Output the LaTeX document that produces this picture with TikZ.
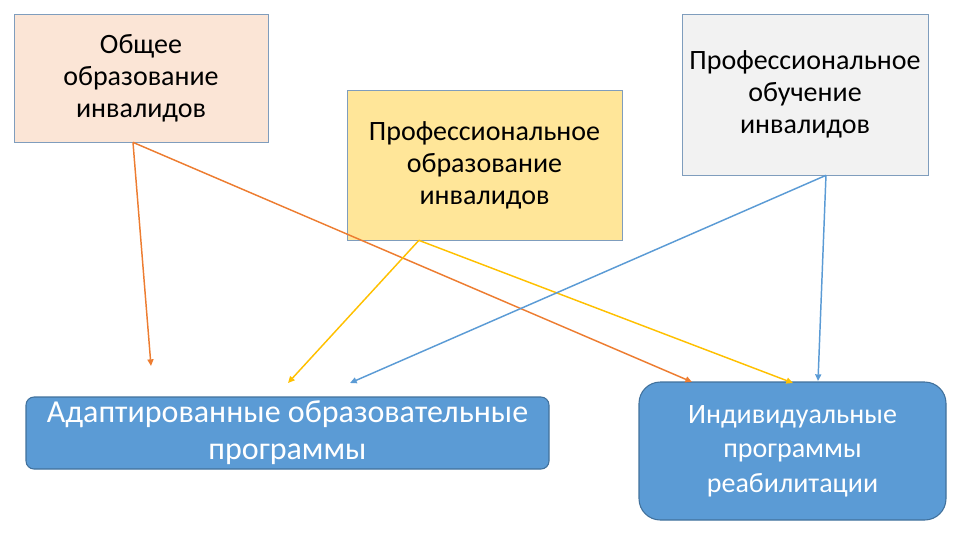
\documentclass[tikz,border=0pt]{standalone}
\usepackage{fontspec}
\setmainfont{Carlito}
\usetikzlibrary{arrows.meta,calc}
\definecolor{peach}{HTML}{FBE5D6}
\definecolor{lightyellow}{HTML}{FFE699}
\definecolor{lightgray}{HTML}{F2F2F2}
\definecolor{accblue}{HTML}{5B9BD5}
\definecolor{darkblue}{HTML}{41719C}
\definecolor{edgegray}{HTML}{7F9DBD}
\definecolor{accorange}{HTML}{ED7D31}
\definecolor{accyellow}{HTML}{FFC000}
\definecolor{linkblue}{HTML}{5B9BD5}
\begin{document}
\begin{tikzpicture}[x=0.75pt,y=-0.75pt,
  topbox/.style={draw=edgegray, line width=0.5pt, inner sep=0pt, align=center,
    font=\fontsize{21}{24}\selectfont, text=black},
  bluebox/.style={draw=darkblue, fill=accblue, line width=0.8pt, inner sep=0pt,
    align=center, text=white},
  link/.style={line width=1.1pt, -{Triangle[length=5pt,width=4.5pt]}}
]
\useasboundingbox (0,0) rectangle (960,540);
\node[topbox, fill=peach, minimum width=190.5pt, minimum height=96pt] (b1) at (141,78)
  {Общее\\образование\\инвалидов};
\node[topbox, fill=lightyellow, minimum width=206.25pt, minimum height=112.5pt] (b2) at (484.5,165)
  {Профессиональное\\образование\\инвалидов};
\node[topbox, fill=lightgray, minimum width=184.5pt, minimum height=120.75pt] (b3) at (805,94.5)
  {Профессиональное\\обучение\\инвалидов};
\node[bluebox, rounded corners=6pt, minimum width=392.25pt, minimum height=54pt,
  font=\fontsize{24}{27.75}\selectfont] (b4) at (287.5,433)
  {Адаптированные образовательные\\программы};
\node[bluebox, rounded corners=16pt, minimum width=230.25pt, minimum height=103.5pt,
  font=\fontsize{21}{26}\selectfont] (b5) at (792.5,451)
  {Индивидуальные\\программы\\реабилитации};

\coordinate (s1) at ($(b1.south west)!0.4685!(b1.south east)$);
\coordinate (s2) at ($(b2.south west)!0.262!(b2.south east)$);
\coordinate (s3) at ($(b3.south west)!0.585!(b3.south east)$);
\coordinate (e1) at (151,366);
\coordinate (e2) at (692,382);
\coordinate (e3) at (288,383);
\coordinate (e4) at (793,383);
\coordinate (e5) at (350,383);
\coordinate (e6) at (818,381);

\draw[link, accorange] (s1) -- (e1);
\draw[link, accorange] (s1) -- (e2);
\draw[link, accyellow] (s2) -- (e3);
\draw[link, accyellow] (s2) -- (e4);
\draw[link, linkblue] (s3) -- (e5);
\draw[link, linkblue] (s3) -- (e6);
\end{tikzpicture}
\end{document}
